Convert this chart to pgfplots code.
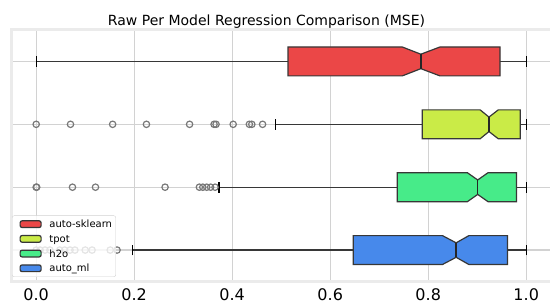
\documentclass[border=0pt]{standalone}
\usepackage{fontspec}
\setmainfont{DejaVu Sans}
\usepackage{pgfplots}
\pgfplotsset{compat=1.18}
\definecolor{cred}{RGB}{235,71,71}
\definecolor{cyel}{RGB}{202,235,71}
\definecolor{cgrn}{RGB}{71,235,137}
\definecolor{cblu}{RGB}{71,137,235}
\definecolor{edge}{RGB}{55,55,55}
\definecolor{gridc}{RGB}{210,210,210}
\definecolor{spinec}{RGB}{235,235,235}
\definecolor{outc}{RGB}{120,120,120}
\definecolor{legc}{RGB}{210,210,210}
\begin{document}
\begin{tikzpicture}[x=1bp,y=1bp]
\path[use as bounding box] (0,0) rectangle (550,304);
\node[anchor=base,inner sep=0pt] at (266.5,279) {\fontsize{14bp}{16bp}\selectfont Raw Per Model Regression Comparison (MSE)};
\begin{axis}[
  at={(11.7bp,22.5bp)}, anchor=south west, scale only axis,
  width=541.45bp, height=251.5bp,
  xmin=-0.05, xmax=1.055, ymin=0.5, ymax=4.5,
  xtick={0,0.2,0.4,0.6,0.8,1.0},
  xticklabels={0.0,0.2,0.4,0.6,0.8,1.0},
  ytick={1,2,3,4}, yticklabels={},
  major tick length=0,
  grid=major, grid style={draw=gridc, line width=1.2bp},
  axis line style={draw=spinec, line width=3bp},
  xticklabel style={font=\fontsize{16bp}{19bp}\selectfont, anchor=base, yshift=-18.5bp},
  legend style={at={(0.0006,0.018)}, anchor=south west,
    draw=legc, fill=white, fill opacity=0.8, draw opacity=1, text opacity=1,
    rounded corners=2bp, inner xsep=7.3bp, inner ysep=1.15bp,
    font=\fontsize{10bp}{12bp}\selectfont, row sep=0bp, column sep=4bp,
    nodes={inner xsep=3.7bp, inner ysep=2bp, text height=8.85bp, text depth=1.85bp}},
  legend cell align=left,
  legend image code/.code={%
    \draw[#1, fill opacity=1, line width=1.2bp] (0bp,-3.35bp) rectangle (21bp,3.35bp);},
]
% ---------- auto-sklearn (y=4) ----------
\addplot[draw=edge, line width=1.25bp, forget plot] coordinates {(0.0,4)(0.514,4)};
\addplot[draw=edge, line width=1.25bp, forget plot] coordinates {(0.9465,4)(1.0,4)};
\addplot[draw=black, line width=1.25bp, forget plot] coordinates {(0.0,3.915)(0.0,4.085)};
\addplot[draw=black, line width=1.25bp, forget plot] coordinates {(1.0,3.915)(1.0,4.085)};
\addplot[fill=cred, draw=edge, line width=1.2bp, forget plot] coordinates {
 (0.514,3.77)(0.747,3.77)(0.785,3.885)(0.824,3.77)(0.9465,3.77)
 (0.9465,4.23)(0.824,4.23)(0.785,4.115)(0.747,4.23)(0.514,4.23)(0.514,3.77)} -- cycle;
\addplot[draw=black!85, line width=1.5bp, forget plot] coordinates {(0.785,3.885)(0.785,4.115)};
% ---------- tpot (y=3) ----------
\addplot[draw=edge, line width=1.25bp, forget plot] coordinates {(0.489,3)(0.788,3)};
\addplot[draw=edge, line width=1.25bp, forget plot] coordinates {(0.988,3)(1.0,3)};
\addplot[draw=black, line width=1.25bp, forget plot] coordinates {(0.489,2.915)(0.489,3.085)};
\addplot[draw=black, line width=1.25bp, forget plot] coordinates {(1.0,2.915)(1.0,3.085)};
\addplot[fill=cyel, draw=edge, line width=1.2bp, forget plot] coordinates {
 (0.788,2.77)(0.906,2.77)(0.924,2.885)(0.943,2.77)(0.988,2.77)
 (0.988,3.23)(0.943,3.23)(0.924,3.115)(0.906,3.23)(0.788,3.23)(0.788,2.77)} -- cycle;
\addplot[draw=black!85, line width=1.5bp, forget plot] coordinates {(0.924,2.885)(0.924,3.115)};
\addplot[only marks, mark=o, mark size=3.2bp, mark options={draw=outc, line width=1.2bp}, forget plot] coordinates {
 (0.0,3)(0.07,3)(0.156,3)(0.225,3)(0.313,3)(0.363,3)(0.367,3)(0.402,3)(0.435,3)(0.440,3)(0.462,3)};
% ---------- h2o (y=2) ----------
\addplot[draw=edge, line width=1.25bp, forget plot] coordinates {(0.373,2)(0.737,2)};
\addplot[draw=edge, line width=1.25bp, forget plot] coordinates {(0.98,2)(1.0,2)};
\addplot[draw=black, line width=1.25bp, forget plot] coordinates {(0.373,1.915)(0.373,2.085)};
\addplot[draw=black, line width=1.25bp, forget plot] coordinates {(1.0,1.915)(1.0,2.085)};
\addplot[fill=cgrn, draw=edge, line width=1.2bp, forget plot] coordinates {
 (0.737,1.77)(0.88,1.77)(0.901,1.885)(0.922,1.77)(0.98,1.77)
 (0.98,2.23)(0.922,2.23)(0.901,2.115)(0.88,2.23)(0.737,2.23)(0.737,1.77)} -- cycle;
\addplot[draw=black!85, line width=1.5bp, forget plot] coordinates {(0.901,1.885)(0.901,2.115)};
\addplot[only marks, mark=o, mark size=3.2bp, mark options={draw=outc, line width=1.2bp}, forget plot] coordinates {
 (0.0,2)(0.001,2)(0.074,2)(0.121,2)(0.263,2)(0.333,2)(0.340,2)(0.348,2)(0.356,2)(0.365,2)};
% ---------- auto_ml (y=1) ----------
\addplot[draw=edge, line width=1.25bp, forget plot] coordinates {(0.197,1)(0.647,1)};
\addplot[draw=edge, line width=1.25bp, forget plot] coordinates {(0.962,1)(1.0,1)};
\addplot[draw=black, line width=1.25bp, forget plot] coordinates {(0.197,0.915)(0.197,1.085)};
\addplot[draw=black, line width=1.25bp, forget plot] coordinates {(1.0,0.915)(1.0,1.085)};
\addplot[fill=cblu, draw=edge, line width=1.2bp, forget plot] coordinates {
 (0.647,0.77)(0.829,0.77)(0.857,0.885)(0.883,0.77)(0.962,0.77)
 (0.962,1.23)(0.883,1.23)(0.857,1.115)(0.829,1.23)(0.647,1.23)(0.647,0.77)} -- cycle;
\addplot[draw=black!85, line width=1.5bp, forget plot] coordinates {(0.857,0.885)(0.857,1.115)};
\addplot[only marks, mark=o, mark size=3.2bp, mark options={draw=outc, line width=1.2bp}, forget plot] coordinates {
 (0.0,1)(0.008,1)(0.018,1)(0.028,1)(0.048,1)(0.058,1)(0.069,1)(0.079,1)(0.1,1)(0.114,1)(0.151,1)(0.165,1)};
% ---------- legend ----------
\addlegendimage{fill=cred, draw=edge}
\addlegendentry{auto-sklearn\hspace*{-7.3bp}}
\addlegendimage{fill=cyel, draw=edge}
\addlegendentry{tpot}
\addlegendimage{fill=cgrn, draw=edge}
\addlegendentry{h2o}
\addlegendimage{fill=cblu, draw=edge}
\addlegendentry{auto\_ml}
\end{axis}
\end{tikzpicture}
\end{document}
